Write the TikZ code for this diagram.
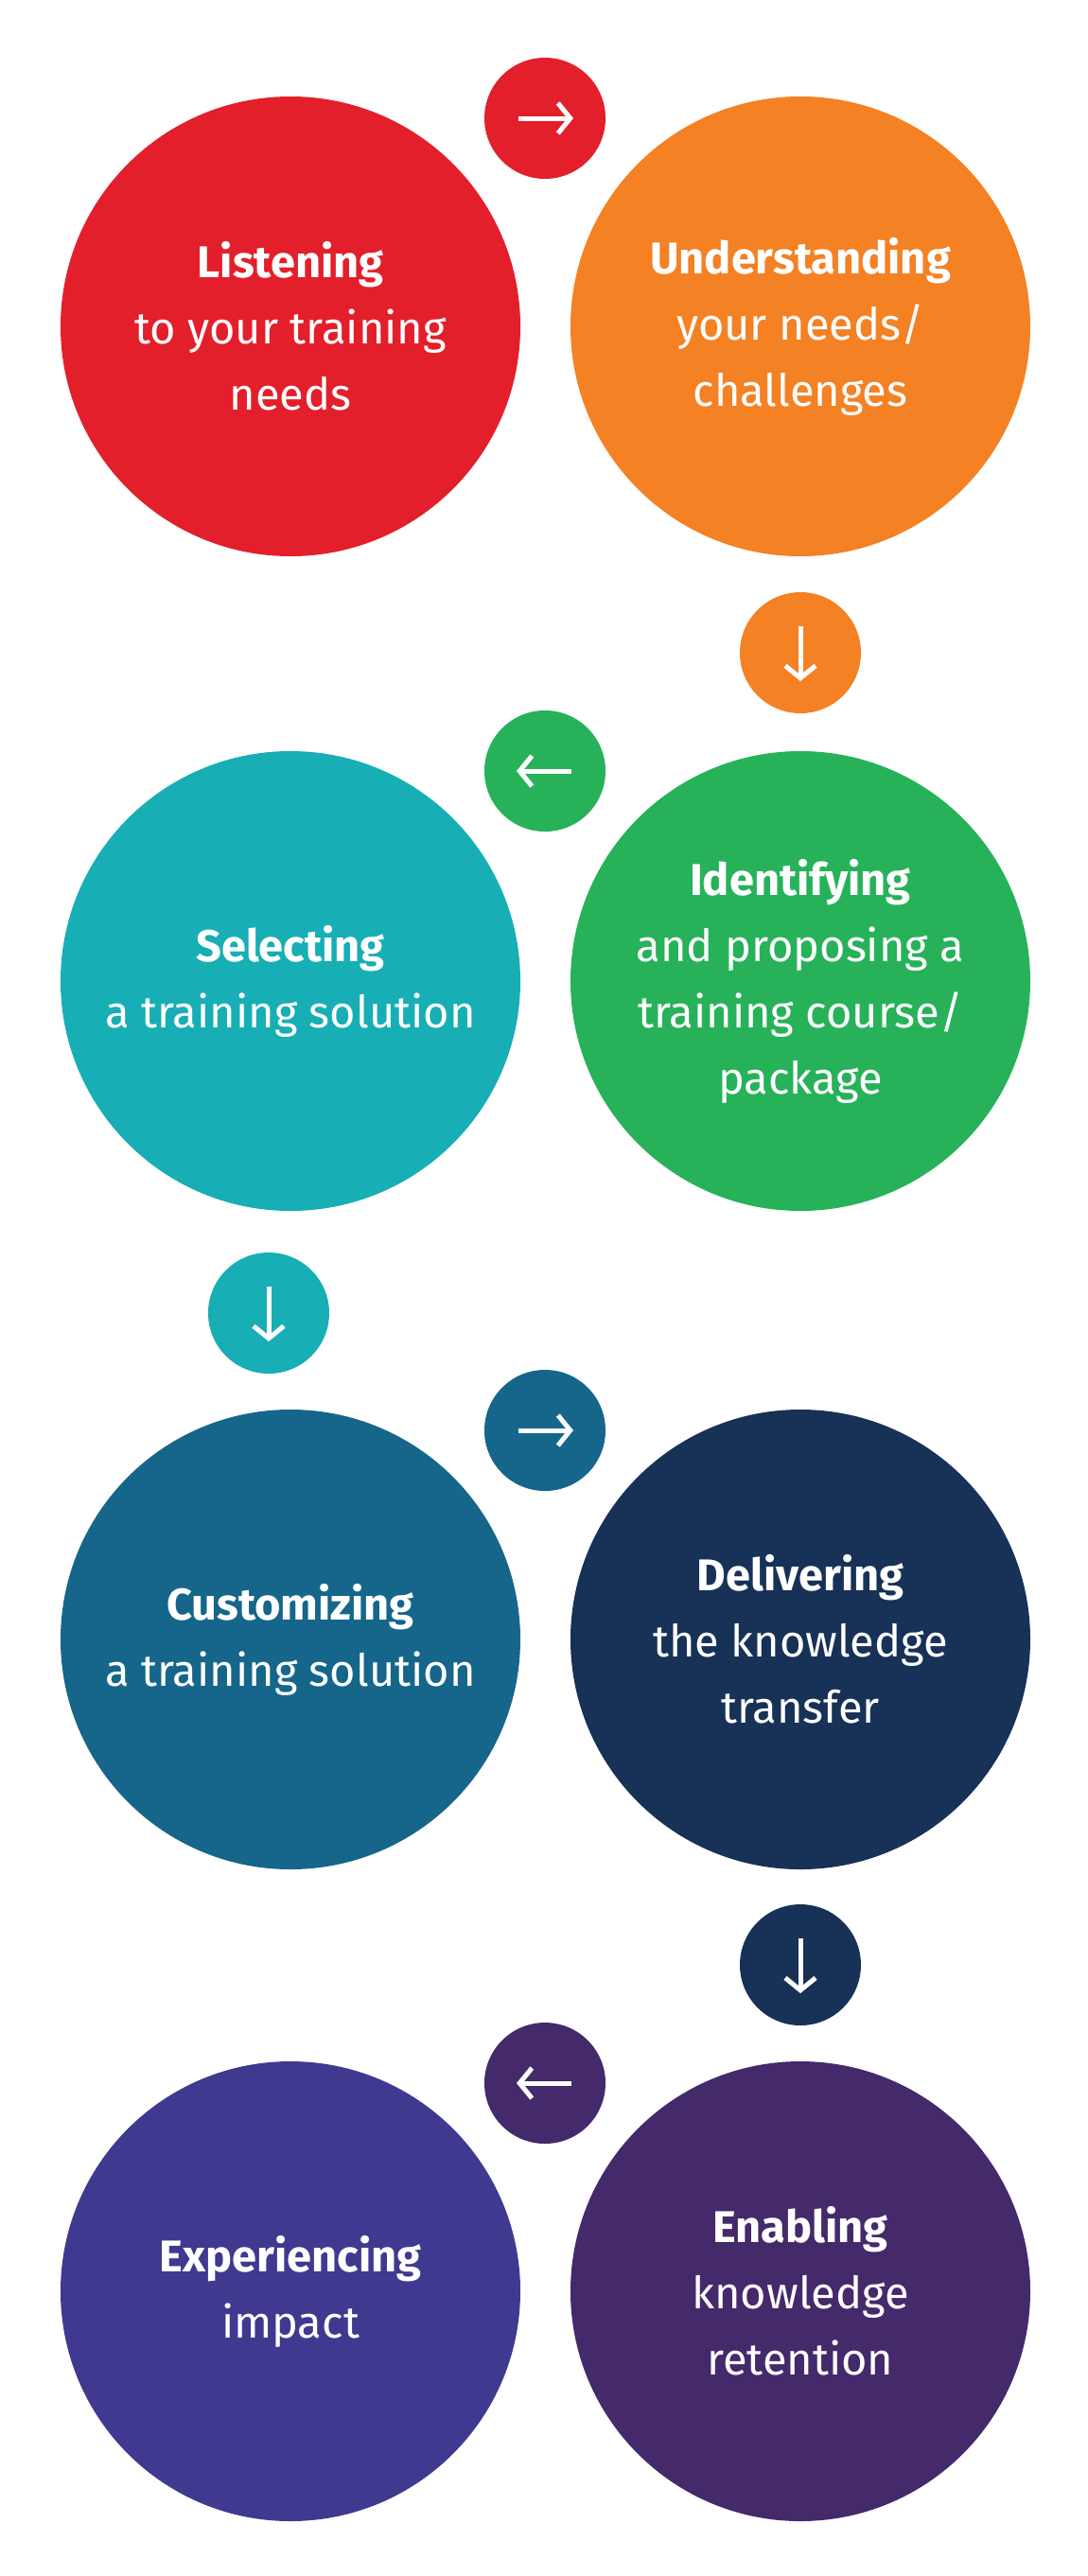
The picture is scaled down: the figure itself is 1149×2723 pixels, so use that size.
\documentclass[tikz,border=0pt]{standalone}
\usepackage{fontspec}
\setmainfont{Fira Sans}
\usetikzlibrary{arrows.meta}
\definecolor{stepred}{HTML}{E31F2B}
\definecolor{steporange}{HTML}{F48124}
\definecolor{stepgreen}{HTML}{27B25A}
\definecolor{stepteal}{HTML}{17AEB5}
\definecolor{stepblue}{HTML}{15668A}
\definecolor{stepnavy}{HTML}{173157}
\definecolor{stepplum}{HTML}{44296B}
\definecolor{stepindigo}{HTML}{3F3990}
\begin{document}
\begin{tikzpicture}[x=1pt, y=-1pt,
    stage/.style={circle, minimum size=486pt, inner sep=0pt, align=center, text=white,
      font=\fontsize{47}{70}\selectfont},
    hop/.style={circle, minimum size=128pt, inner sep=0pt},
    arr/.style={draw=white, line width=5pt, -{Straight Barb[length=13pt, width=32pt, line width=5pt]}}
]
    \useasboundingbox (0,0) rectangle (1149,2723);

    \node[stage, fill=stepred] (listen) at (307,345) {\textbf{Listening}\\to your training\\needs};
    \node[stage, fill=steporange] (understand) at (846,345) {\textbf{Understanding}\\your needs/\\challenges};
    \node[stage, fill=stepgreen] (identify) at (846,1037) {\textbf{Identifying}\\and proposing a\\training course/\\package};
    \node[stage, fill=stepteal] (select) at (307,1037) {\textbf{Selecting}\\a training solution};
    \node[stage, fill=stepblue] (custom) at (307,1733) {\textbf{Customizing}\\a training solution};
    \node[stage, fill=stepnavy] (deliver) at (846,1733) {\textbf{Delivering}\\the knowledge\\transfer};
    \node[stage, fill=stepplum] (enable) at (846,2422) {\textbf{Enabling}\\knowledge\\retention};
    \node[stage, fill=stepindigo] (impact) at (307,2422) {\textbf{Experiencing}\\impact};

    \node[hop, fill=stepred] (hop1) at (576,125) {};
    \node[hop, fill=steporange] (hop2) at (846,690) {};
    \node[hop, fill=stepgreen] (hop3) at (576,815) {};
    \node[hop, fill=stepteal] (hop4) at (284,1388) {};
    \node[hop, fill=stepblue] (hop5) at (576,1512) {};
    \node[hop, fill=stepnavy] (hop6) at (846,2077) {};
    \node[hop, fill=stepplum] (hop7) at (576,2202) {};

    \draw[arr] ([xshift=-28pt]hop1.center) -- ([xshift=30pt]hop1.center);
    \draw[arr] ([yshift=28pt]hop2.center) -- ([yshift=-30pt]hop2.center);
    \draw[arr] ([xshift=28pt]hop3.center) -- ([xshift=-30pt]hop3.center);
    \draw[arr] ([yshift=28pt]hop4.center) -- ([yshift=-30pt]hop4.center);
    \draw[arr] ([xshift=-28pt]hop5.center) -- ([xshift=30pt]hop5.center);
    \draw[arr] ([yshift=28pt]hop6.center) -- ([yshift=-30pt]hop6.center);
    \draw[arr] ([xshift=28pt]hop7.center) -- ([xshift=-30pt]hop7.center);
\end{tikzpicture}
\end{document}
